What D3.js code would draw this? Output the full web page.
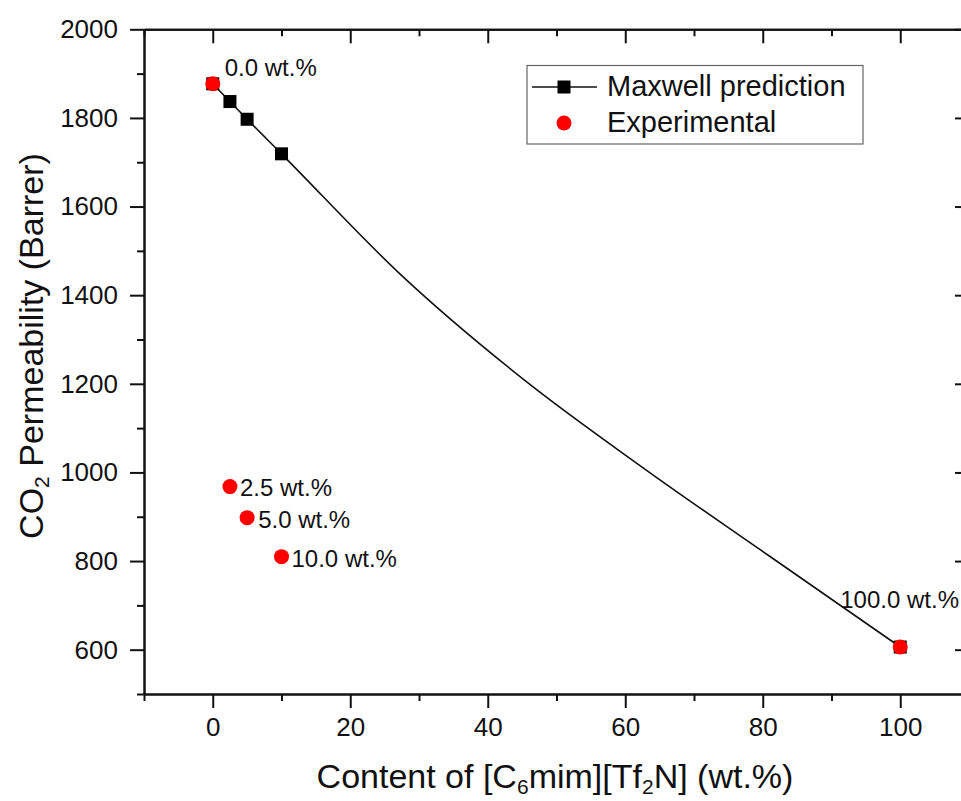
<!DOCTYPE html>
<html>
<head>
<meta charset="utf-8">
<script src="https://cdn.jsdelivr.net/npm/d3@7"></script>
<style>
  body { margin: 0; background: #fff; }
  text { font-family: "Liberation Sans", Arial, sans-serif; fill: #111; }
</style>
</head>
<body>
<svg id="svg1" width="961" height="801"></svg>
<script>
// values
var maxwellX = [0, 2.5, 5, 10, 100];
var maxwellY = [1877, 1837, 1797, 1719, 606];

// points along the drawn Maxwell curve
var curveX = [0, 2.5, 5, 10, 27.3, 45.2, 63.0, 80.9, 100];
var curveY = [1877, 1837, 1797, 1719, 1447, 1210, 1006, 812, 606];

var expX = [0, 2.5, 5, 10, 100];
var expY = [1877, 968, 898, 810, 606];
var expLabels = ['0.0 wt.%', '2.5 wt.%', '5.0 wt.%', '10.0 wt.%', '100.0 wt.%'];

var xTicks = [0, 20, 40, 60, 80, 100];
var yTicks = [600, 800, 1000, 1200, 1400, 1600, 1800, 2000];

// label offsets in px (dx, dy from the point)
var labelOffsets = [[12, -14], [10, 3], [11, 4], [10, 4], [-60, -45]];

var svg = d3.select('svg');

var plotLeft = 144, plotRight = 969, plotTop = 29.3, plotBottom = 694;

var x = d3.scaleLinear().domain([-10, 110]).range([plotLeft, plotRight]);
var y = d3.scaleLinear().domain([500, 2000]).range([plotBottom, plotTop]);

var minorX = d3.range(-10, 111, 10).filter(function(d){ return xTicks.indexOf(d) < 0; });
var minorY = d3.range(500, 2001, 100).filter(function(d){ return yTicks.indexOf(d) < 0; });

function styleAxis(g) {
  g.select('.domain').attr('stroke', '#111').attr('stroke-width', 2);
  g.selectAll('.tick line').attr('stroke', '#111').attr('stroke-width', 2);
  g.selectAll('.tick text').style('font-size', '26px').attr('fill', '#111');
}

// bottom axis
svg.append('g')
    .attr('transform', 'translate(0,' + plotBottom + ')')
    .call(d3.axisBottom(x).tickValues(xTicks).tickSize(14).tickPadding(10).tickSizeOuter(0))
    .call(styleAxis);
svg.append('g')
    .attr('transform', 'translate(0,' + plotBottom + ')')
    .call(d3.axisBottom(x).tickValues(minorX).tickSize(7).tickFormat('').tickSizeOuter(0))
    .call(styleAxis);

// top axis (ticks inward)
svg.append('g')
    .attr('transform', 'translate(0,' + plotTop + ')')
    .call(d3.axisTop(x).tickValues(xTicks).tickSize(-14).tickFormat('').tickSizeOuter(0))
    .call(styleAxis);
svg.append('g')
    .attr('transform', 'translate(0,' + plotTop + ')')
    .call(d3.axisTop(x).tickValues(minorX).tickSize(-7).tickFormat('').tickSizeOuter(0))
    .call(styleAxis);

// left axis
svg.append('g')
    .attr('transform', 'translate(' + plotLeft + ',0)')
    .call(d3.axisLeft(y).tickValues(yTicks).tickSize(14).tickPadding(12).tickFormat(d3.format('d')).tickSizeOuter(0))
    .call(styleAxis);
svg.append('g')
    .attr('transform', 'translate(' + plotLeft + ',0)')
    .call(d3.axisLeft(y).tickValues(minorY).tickSize(7).tickFormat('').tickSizeOuter(0))
    .call(styleAxis);

// right axis (ticks inward, mostly off-canvas)
svg.append('g')
    .attr('transform', 'translate(' + plotRight + ',0)')
    .call(d3.axisRight(y).tickValues(yTicks).tickSize(-14).tickFormat('').tickSizeOuter(0))
    .call(styleAxis);
svg.append('g')
    .attr('transform', 'translate(' + plotRight + ',0)')
    .call(d3.axisRight(y).tickValues(minorY).tickSize(-7).tickFormat('').tickSizeOuter(0))
    .call(styleAxis);

// Maxwell curve
var curveData = curveX.map(function(d, i){ return [d, curveY[i]]; });
var line = d3.line()
    .x(function(d){ return x(d[0]); })
    .y(function(d){ return y(d[1]); })
    .curve(d3.curveMonotoneX);

svg.append('path')
    .datum(curveData)
    .attr('d', line)
    .attr('fill', 'none')
    .attr('stroke', '#111')
    .attr('stroke-width', 1.6);

// Maxwell squares
var sq = 13;
svg.selectAll('rect.maxwell')
    .data(maxwellX.map(function(d, i){ return [d, maxwellY[i]]; }))
    .enter()
    .append('rect')
    .attr('class', 'maxwell')
    .attr('x', function(d){ return x(d[0]) - sq / 2; })
    .attr('y', function(d){ return y(d[1]) - sq / 2; })
    .attr('width', sq)
    .attr('height', sq)
    .attr('fill', '#000');

// experimental dots
var expData = expX.map(function(d, i){ return {x: d, y: expY[i], label: expLabels[i], off: labelOffsets[i]}; });
svg.selectAll('circle.exp')
    .data(expData)
    .enter()
    .append('circle')
    .attr('class', 'exp')
    .attr('cx', function(d){ return x(d.x); })
    .attr('cy', function(d){ return y(d.y); })
    .attr('r', 7.5)
    .attr('fill', '#ff0000');

svg.selectAll('text.lbl')
    .data(expData)
    .enter()
    .append('text')
    .attr('class', 'lbl')
    .attr('x', function(d){ return x(d.x) + d.off[0]; })
    .attr('y', function(d){ return y(d.y) + d.off[1]; })
    .attr('dominant-baseline', 'middle')
    .style('font-size', '24px')
    .text(function(d){ return d.label; });

// legend
var legend = svg.append('g');
legend.append('rect')
    .attr('x', 527).attr('y', 65.5)
    .attr('width', 336).attr('height', 78.5)
    .attr('fill', '#fff')
    .attr('stroke', '#666')
    .attr('stroke-width', 1.2);
legend.append('line')
    .attr('x1', 532).attr('x2', 597)
    .attr('y1', 87).attr('y2', 87)
    .attr('stroke', '#111').attr('stroke-width', 1.4);
legend.append('rect')
    .attr('x', 564 - sq / 2).attr('y', 87 - sq / 2)
    .attr('width', sq).attr('height', sq)
    .attr('fill', '#000');
legend.append('circle')
    .attr('cx', 564).attr('cy', 123).attr('r', 7.5)
    .attr('fill', '#ff0000');
legend.append('text')
    .attr('x', 607).attr('y', 88)
    .attr('dominant-baseline', 'middle')
    .style('font-size', '29px')
    .text('Maxwell prediction');
legend.append('text')
    .attr('x', 607).attr('y', 124)
    .attr('dominant-baseline', 'middle')
    .style('font-size', '29px')
    .text('Experimental');

// axis titles
var xt = svg.append('text')
    .attr('x', 555).attr('y', 788)
    .attr('text-anchor', 'middle')
    .style('font-size', '34px');
xt.append('tspan').text('Content of [C');
xt.append('tspan').attr('baseline-shift', '-28%').style('font-size', '21px').text('6');
xt.append('tspan').text('mim][Tf');
xt.append('tspan').attr('baseline-shift', '-28%').style('font-size', '21px').text('2');
xt.append('tspan').text('N] (wt.%)');

var yt = svg.append('text')
    .attr('transform', 'translate(43,346) rotate(-90)')
    .attr('text-anchor', 'middle')
    .style('font-size', '34px');
yt.append('tspan').text('CO');
yt.append('tspan').attr('baseline-shift', '-28%').style('font-size', '21px').text('2');
yt.append('tspan').text(' Permeability (Barrer)');
</script>
</body>
</html>
